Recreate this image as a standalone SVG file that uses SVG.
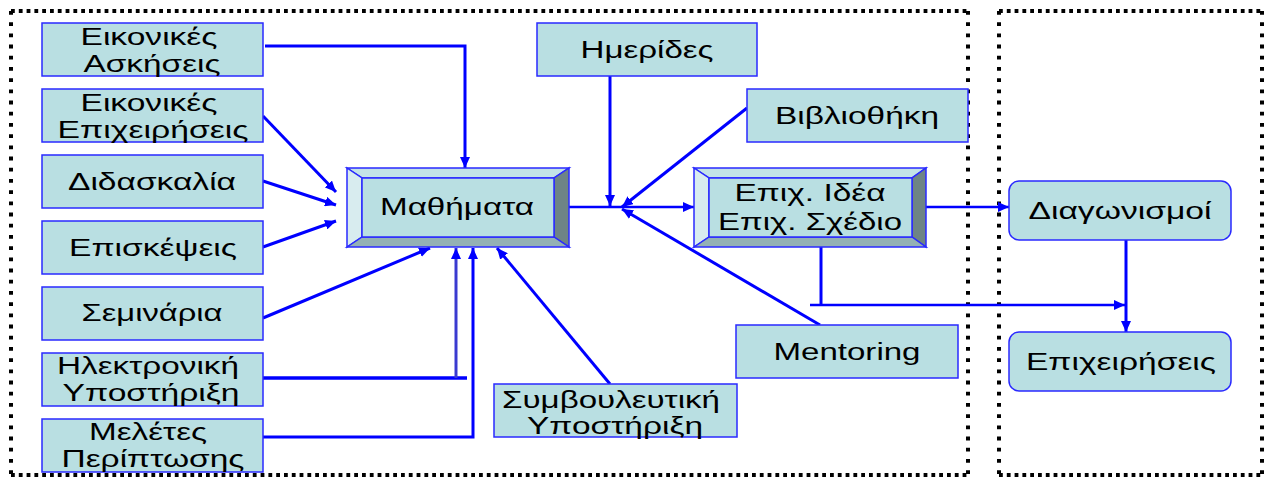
<svg xmlns="http://www.w3.org/2000/svg" width="1266" height="480" viewBox="0 0 1266 480">
<style>
.box{fill:#b9dfe2;stroke:#2a2aff;stroke-width:1.5}
.t{font-family:"Liberation Sans",Arial,sans-serif;font-size:23px;fill:#000;text-anchor:middle}
.c{fill:none;stroke:#0000ff;stroke-width:3}
.h{stroke:#000;stroke-width:4;stroke-dasharray:3.8 4}
.v{stroke:#000;stroke-width:4;stroke-dasharray:3.8 7.4}
.bev{stroke:#2a2aff;stroke-width:1.5}
</style>
<defs>
<marker id="a" markerUnits="userSpaceOnUse" markerWidth="11" markerHeight="10" refX="11" refY="5" orient="auto">
<path d="M0,0 L11,5 L0,10 z" fill="#0000ff"/>
</marker>
</defs>
<g id="frames">
<line class="h" x1="11" y1="11" x2="968" y2="11"/>
<line class="h" x1="11" y1="475" x2="968" y2="475"/>
<line class="v" x1="11" y1="11" x2="11" y2="475"/>
<line class="v" x1="968" y1="11" x2="968" y2="475"/>
<line class="h" x1="999" y1="11" x2="1262" y2="11"/>
<line class="h" x1="999" y1="475" x2="1262" y2="475"/>
<line class="v" x1="999" y1="11" x2="999" y2="475"/>
<line class="v" x1="1262" y1="11" x2="1262" y2="475"/>
</g>
<g id="connectors">
<polyline class="c" points="265,46 465,46 465,168" marker-end="url(#a)"/>
<line class="c" x1="263" y1="116" x2="336" y2="192" marker-end="url(#a)"/>
<line class="c" x1="263" y1="181" x2="336" y2="205" marker-end="url(#a)"/>
<line class="c" x1="263" y1="247" x2="336" y2="221" marker-end="url(#a)"/>
<line class="c" x1="263" y1="318" x2="430" y2="248" marker-end="url(#a)"/>
<line class="c" x1="263" y1="378" x2="467" y2="378" style="stroke-width:3.5"/>
<line class="c" x1="456" y1="378" x2="456" y2="248" style="stroke:#3a3ad0" marker-end="url(#a)"/>
<polyline class="c" points="263,437 473,437 473,248" marker-end="url(#a)"/>
<line class="c" x1="610" y1="384" x2="497" y2="248" marker-end="url(#a)"/>
<line class="c" x1="569" y1="207" x2="694" y2="207" style="stroke-width:2.5" marker-end="url(#a)"/>
<line class="c" x1="610" y1="76" x2="610" y2="206" marker-end="url(#a)"/>
<line class="c" x1="747" y1="108" x2="622" y2="207" marker-end="url(#a)"/>
<line class="c" x1="820" y1="325" x2="622" y2="209" marker-end="url(#a)"/>
<line class="c" x1="926" y1="207" x2="1009" y2="207" style="stroke-width:2.5" marker-end="url(#a)"/>
<line class="c" x1="821" y1="247" x2="821" y2="305"/>
<line class="c" x1="810" y1="305" x2="1125" y2="305" style="stroke-width:2.5" marker-end="url(#a)"/>
<line class="c" x1="1126" y1="240" x2="1126" y2="332" marker-end="url(#a)"/>
</g>
<g id="n1"><rect class="box" x="42" y="23" width="221" height="53"/><text class="t" x="149" y="45" textLength="137" lengthAdjust="spacingAndGlyphs">Εικονικές</text><text class="t" x="152" y="72" textLength="137" lengthAdjust="spacingAndGlyphs">Ασκήσεις</text></g>
<g id="n2"><rect class="box" x="42" y="89" width="221" height="53"/><text class="t" x="149" y="111" textLength="137" lengthAdjust="spacingAndGlyphs">Εικονικές</text><text class="t" x="153" y="138" textLength="191" lengthAdjust="spacingAndGlyphs">Επιχειρήσεις</text></g>
<g id="n3"><rect class="box" x="42" y="155" width="221" height="53"/><text class="t" x="152" y="190" textLength="168" lengthAdjust="spacingAndGlyphs">Διδασκαλία</text></g>
<g id="n4"><rect class="box" x="42" y="221" width="221" height="53"/><text class="t" x="153" y="256" textLength="168" lengthAdjust="spacingAndGlyphs">Επισκέψεις</text></g>
<g id="n5"><rect class="box" x="42" y="287" width="221" height="53"/><text class="t" x="152" y="321" textLength="141" lengthAdjust="spacingAndGlyphs">Σεμινάρια</text></g>
<g id="n6"><rect class="box" x="42" y="353" width="221" height="53"/><text class="t" x="148" y="374" textLength="182" lengthAdjust="spacingAndGlyphs">Ηλεκτρονική</text><text class="t" x="151" y="401" textLength="177" lengthAdjust="spacingAndGlyphs">Υποστήριξη</text></g>
<g id="n7"><rect class="box" x="42" y="419" width="221" height="53"/><text class="t" x="148" y="440" textLength="118" lengthAdjust="spacingAndGlyphs">Μελέτες</text><text class="t" x="153" y="467" textLength="183" lengthAdjust="spacingAndGlyphs">Περίπτωσης</text></g>
<g id="mathimata">
<polygon class="bev" points="347,168 569,168 554,178 362,178" fill="#c3e3e7"/>
<polygon class="bev" points="347,168 362,178 362,237 347,247" fill="#d8ecef"/>
<polygon class="bev" points="569,168 569,247 554,237 554,178" fill="#6e8485"/>
<polygon class="bev" points="347,247 362,237 554,237 569,247" fill="#94b1b4"/>
<rect class="box" x="362" y="178" width="192" height="59"/>
<text class="t" x="457" y="215" textLength="154" lengthAdjust="spacingAndGlyphs">Μαθήματα</text>
</g>
<g id="idea">
<polygon class="bev" points="694,168 926,168 912,178 709,178" fill="#c3e3e7"/>
<polygon class="bev" points="694,168 709,178 709,237 694,247" fill="#d8ecef"/>
<polygon class="bev" points="926,168 926,247 912,237 912,178" fill="#6e8485"/>
<polygon class="bev" points="694,247 709,237 912,237 926,247" fill="#94b1b4"/>
<rect class="box" x="709" y="178" width="203" height="59"/>
<text class="t" x="810" y="201" textLength="151" lengthAdjust="spacingAndGlyphs">Επιχ. Ιδέα</text>
<text class="t" x="810" y="230" textLength="184" lengthAdjust="spacingAndGlyphs">Επιχ. Σχέδιο</text>
</g>
<g id="imerides"><rect class="box" x="537" y="23" width="220" height="53"/><text class="t" x="647" y="58" textLength="133" lengthAdjust="spacingAndGlyphs">Ημερίδες</text></g>
<g id="vivliothiki"><rect class="box" x="747" y="89" width="221" height="53"/><text class="t" x="857" y="124" textLength="164" lengthAdjust="spacingAndGlyphs">Βιβλιοθήκη</text></g>
<g id="mentoring"><rect class="box" x="736" y="325" width="222" height="53"/><text class="t" x="847" y="360" textLength="147" lengthAdjust="spacingAndGlyphs">Mentoring</text></g>
<g id="symvouleutiki"><rect class="box" x="494" y="384" width="243" height="53"/><text class="t" x="611" y="408" textLength="218" lengthAdjust="spacingAndGlyphs">Συμβουλευτική</text><text class="t" x="615" y="434" textLength="176" lengthAdjust="spacingAndGlyphs">Υποστήριξη</text></g>
<g id="diagonismoi"><rect class="box" x="1009" y="181" width="222" height="59" rx="10"/><text class="t" x="1120" y="219" textLength="183" lengthAdjust="spacingAndGlyphs">Διαγωνισμοί</text></g>
<g id="epixeiriseis"><rect class="box" x="1009" y="332" width="222" height="59" rx="10"/><text class="t" x="1121" y="370" textLength="190" lengthAdjust="spacingAndGlyphs">Επιχειρήσεις</text></g>
</svg>
